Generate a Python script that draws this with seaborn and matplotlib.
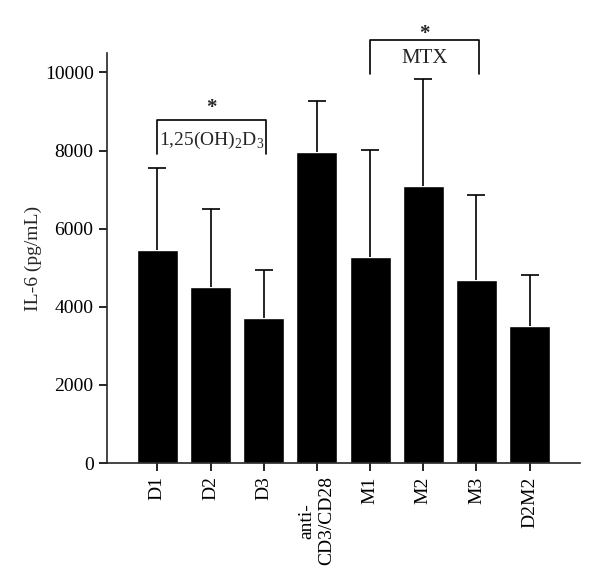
import numpy as np
import pandas as pd
import seaborn as sns
from matplotlib import pyplot as plt

groups = ['D1', 'D2', 'D3', 'anti-\nCD3/CD28', 'M1', 'M2', 'M3', 'D2M2']
il6 = [5460, 4510, 3720, 7950, 5280, 7100, 4690, 3510]
il6_sd = [2100, 1990, 1230, 1330, 2740, 2720, 2160, 1310]

sns.set_style('ticks')
plt.rcParams['font.family'] = ['Liberation Serif', 'DejaVu Serif']
plt.rcParams['mathtext.fontset'] = 'custom'
plt.rcParams['mathtext.rm'] = 'Liberation Serif'

df = pd.DataFrame({'group': groups, 'il6': il6})

fig = plt.figure(figsize=(6, 5.87), dpi=100)
ax = fig.add_axes([0.178, 0.211, 0.789, 0.699])
sns.barplot(data=df, x='group', y='il6', color='black', width=0.77,
            errorbar=None, ax=ax, saturation=1)
x = np.arange(len(groups))
eb = ax.errorbar(x, il6, yerr=[np.zeros(len(il6)), il6_sd], fmt='none',
                 ecolor='black', elinewidth=1.2, capsize=6.5, capthick=1.2)
# only the upper cap
eb.lines[1][0].remove()

ax.set_ylim(0, 10500)
ax.set_xlim(-0.95, 7.95)
ax.set_yticks(range(0, 10001, 2000))
ax.tick_params(axis='both', labelsize=14, width=1.2, length=6, colors='black')
ax.tick_params(axis='x', rotation=90)
for lab in ax.get_xticklabels():
    lab.set_horizontalalignment('center')
    lab.set_multialignment('center')
ax.set_xlabel('')
ax.set_ylabel('IL-6 (pg/mL)', fontsize=14, labelpad=2)
sns.despine(ax=ax)
for s in ['left', 'bottom']:
    ax.spines[s].set_linewidth(1.2)

# significance brackets
def bracket(x0, x1, ytop, ybot, label, star_y, text_y, fs):
    ax.plot([x0, x0, x1, x1], [ybot, ytop, ytop, ybot], color='black',
            lw=1.2, clip_on=False)
    ax.text((x0 + x1) / 2, star_y, '*', ha='center', va='center', fontsize=15,
            fontweight='bold', clip_on=False)
    ax.text((x0 + x1) / 2, text_y, label, ha='center', va='center', fontsize=fs,
            clip_on=False)

bracket(0, 2.05, 8770, 7920, r'1,25(OH)$_\mathrm{2}$D$_\mathrm{3}$', 9100, 8250, 14)
bracket(4, 6.05, 10820, 9970, 'MTX', 10980, 10350, 15)

fig.savefig('out.png', dpi=100)
